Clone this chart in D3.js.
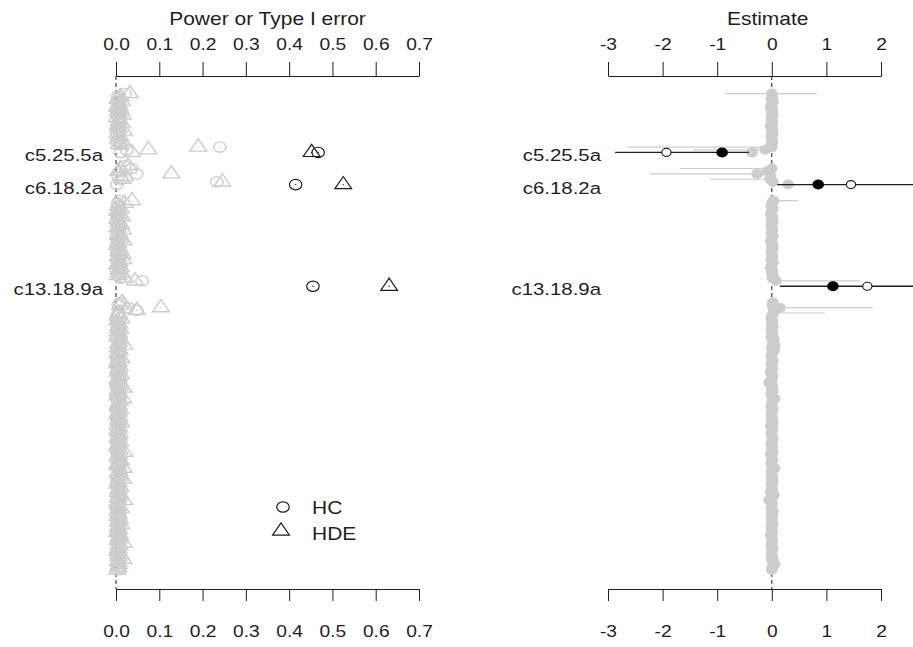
<!DOCTYPE html>
<html>
<head>
<meta charset="utf-8">
<script src="https://cdn.jsdelivr.net/npm/d3@7"></script>
<style>
body { margin: 0; background: #fff; }
svg { font-family: "Liberation Sans", Arial, sans-serif; }
</style>
</head>
<body>
<div id="chart"></div>
<script>
// ---- data ----
var powerTicks = [0, 0.1, 0.2, 0.3, 0.4, 0.5, 0.6, 0.7];
var estTicks = [-3, -2, -1, 0, 1, 2];

// one entry per row, top to bottom (null = empty row)
var hcPower = [
  0.021, 0.004, 0.006, 0.002, 0.008, 0.005, 0.003, 0.007, 0.001, 0.006,
  0.009, 0.004, 0.002, 0.007, 0.005, 0.003, 0.008, 0.006, 0.002, 0.010,
  0.24, 0.025, 0.010, null, null, null, null, 0.020, 0.036, 0.010,
  0.048, 0.005, 0.012, 0.233, 0.002, null, null, null, null, null,
  0.008, 0.004, 0.006, 0.002, 0.009, 0.005, 0.003, 0.007, 0.001, 0.006,
  0.004, 0.008, 0.002, 0.005, 0.009, 0.003, 0.006, 0.001, 0.007, 0.004,
  0.002, 0.008, 0.005, 0.003, 0.009, 0.006, 0.001, 0.007, 0.004, 0.010,
  0.06, null, null, null, null, null, null, null, 0.010, 0.005,
  0.028, 0.048, 0.006, 0.003, 0.008, 0.002, 0.005, 0.009, 0.004, 0.007,
  0.001, 0.006, 0.003, 0.008, 0.005, 0.002, 0.009, 0.004, 0.007, 0.003,
  0.006, 0.001, 0.008, 0.005, 0.002, 0.009, 0.004, 0.007, 0.003, 0.006,
  0.002, 0.008, 0.005, 0.001, 0.009, 0.004, 0.007, 0.003, 0.006, 0.002,
  0.008, 0.005, 0.003, 0.009, 0.006, 0.001, 0.007, 0.004, 0.002, 0.008,
  0.005, 0.003, 0.009, 0.006, 0.002, 0.007, 0.004, 0.001, 0.008, 0.005,
  0.003, 0.009, 0.006, 0.002, 0.007, 0.004, 0.001, 0.008, 0.005, 0.003,
  0.009, 0.006, 0.002, 0.007, 0.004, 0.001, 0.008, 0.005, 0.003, 0.009,
  0.006, 0.002, 0.007, 0.004, 0.001, 0.008, 0.005, 0.003, 0.009, 0.006,
  0.002, 0.007, 0.004, 0.001, 0.008, 0.005, 0.003, 0.006, 0.004
];
var hdePower = [
  0.032, 0.010, 0.004, 0.014, 0.006, 0.003, 0.012, 0.005, 0.016, 0.002,
  0.008, 0.013, 0.004, 0.006, 0.018, 0.003, 0.009, 0.005, 0.015, 0.007,
  0.19, 0.075, 0.037, null, null, null, null, 0.028, 0.010, 0.005,
  0.128, 0.020, 0.015, 0.246, null, null, null, null, null, null,
  0.037, 0.020, 0.005, 0.011, 0.003, 0.008, 0.014, 0.004, 0.006, 0.012,
  0.003, 0.016, 0.007, 0.004, 0.010, 0.018, 0.005, 0.003, 0.009, 0.006,
  0.015, 0.004, 0.017, 0.008, 0.003, 0.011, 0.006, 0.013, 0.004, 0.020,
  0.044, null, null, null, null, null, null, null, 0.014, 0.010,
  0.104, 0.048, 0.006, 0.004, 0.012, 0.003, 0.008, 0.005, 0.010, 0.004,
  0.007, 0.003, 0.011, 0.006, 0.019, 0.004, 0.009, 0.003, 0.007, 0.012,
  0.005, 0.003, 0.009, 0.006, 0.004, 0.011, 0.007, 0.003, 0.005, 0.008,
  0.018, 0.004, 0.006, 0.003, 0.017, 0.009, 0.005, 0.004, 0.010, 0.006,
  0.003, 0.008, 0.005, 0.012, 0.004, 0.007, 0.003, 0.009, 0.006, 0.004,
  0.010, 0.005, 0.003, 0.008, 0.019, 0.006, 0.004, 0.011, 0.005, 0.003,
  0.018, 0.007, 0.004, 0.009, 0.017, 0.005, 0.003, 0.010, 0.006, 0.004,
  0.008, 0.005, 0.019, 0.003, 0.007, 0.011, 0.004, 0.006, 0.003, 0.009,
  0.005, 0.012, 0.004, 0.007, 0.003, 0.010, 0.006, 0.004, 0.018, 0.008,
  0.005, 0.003, 0.009, 0.006, 0.017, 0.004, 0.007, 0.005, 0.003
];
var estimate = [
  0, 0.01, -0.01, 0.02, 0, -0.02, 0.01, 0, 0.02, -0.01,
  0, 0.01, -0.02, 0.01, 0, 0.02, -0.01, 0, 0.01, -0.01,
  0, -0.12, -0.36, null, null, null, null, null, 0, -0.08,
  -0.27, -0.02, -0.03, 0.02, 0.3, null, null, null, null, null,
  0.03, 0, -0.01, 0.02, 0, -0.02, 0.01, 0, 0.02, -0.01,
  0, 0.01, -0.01, 0.02, 0, -0.02, 0.01, 0, 0.02, -0.01,
  0, 0.01, -0.01, 0.02, 0, -0.02, 0.01, 0, 0.02, 0.01,
  0.08, null, null, null, null, null, null, null, 0.02, 0.01,
  0.15, 0.03, 0.03, 0, -0.01, 0.01, 0, 0.02, -0.01, 0,
  0.01, -0.01, 0.04, 0.02, 0.05, 0, 0.04, 0.01, -0.01, 0,
  0.02, -0.01, 0, 0.01, -0.02, 0, 0.01, 0, -0.05, 0.01,
  0, 0.02, -0.01, 0, 0.05, 0.01, 0, -0.01, 0.02, 0,
  -0.01, 0.01, 0, 0.02, -0.02, 0, 0.01, -0.01, 0, 0.02,
  0, -0.01, 0.01, 0, 0.02, -0.02, 0, 0.01, -0.01, 0,
  0.05, 0, -0.01, 0.01, 0, 0.02, -0.01, 0, 0.01, -0.02,
  0.04, 0, -0.05, 0.01, 0, -0.01, 0.02, 0, 0.01, -0.01,
  0, 0.02, -0.01, 0, 0.01, -0.02, 0, 0.01, 0, -0.01,
  0.02, 0, -0.01, 0.01, 0, 0.02, 0.05, 0.01, 0
];

// grey intervals wide enough to be seen
var greyCI = [
  { row: 0, lo: -0.85, hi: 0.84 },
  { row: 20, lo: -2.65, hi: 0 },
  { row: 21, lo: -1.44, hi: 0 },
  { row: 28, lo: -1.68, hi: 0 },
  { row: 30, lo: -2.23, hi: 0 },
  { row: 32, lo: -1.13, hi: 0 },
  { row: 34, lo: 0, hi: 0.55 },
  { row: 40, lo: -0.05, hi: 0.48 },
  { row: 70, lo: 0.1, hi: 1.62 },
  { row: 80, lo: 0, hi: 1.85 },
  { row: 82, lo: 0, hi: 0.97 }
];

// highlighted sites
var hlNames = ['c5.25.5a', 'c6.18.2a', 'c13.18.9a'];
var hlRows = [22, 34, 72];
var hlHC = [0.467, 0.415, 0.455];
var hlHDE = [0.452, 0.525, 0.631];
var hlEstHC = [-1.93, 1.45, 1.75];
var hlEstHDE = [-0.91, 0.85, 1.12];
var hlLo = [-2.87, 0.1, 0.15];
var hlHi = [-0.42, 2.9, 2.9];

// ---- drawing ----
var width = 913, height = 647;
var grey = '#cccccc', ink = '#1e1e1e';
var axisTopY = 76, axisBotY = 589;
var nRows = hcPower.length;

var svg = d3.select('#chart').append('svg')
    .attr('width', width)
    .attr('height', height);

var y = d3.scaleLinear().domain([0, nRows - 1]).range([93.6, 569.9]);
var xP = d3.scaleLinear().domain([0, 0.7]).range([116, 419]);
var xE = d3.scaleLinear().domain([-3, 2]).range([608, 881]);
var estPlotLim = [-3, 2.85];

// marker sizes (picture is a bit wider than tall)
var cRx = 6.2, cRy = 5.2;
function triPath(cx, cy) {
    var s = cRy;
    return 'M' + cx + ',' + (cy - 1.555 * s) +
        'L' + (cx + 1.3468 * s * 1.2) + ',' + (cy + 0.7776 * s) +
        'L' + (cx - 1.3468 * s * 1.2) + ',' + (cy + 0.7776 * s) + 'Z';
}

function label(g, x, yb, txt, anchor, size) {
    return g.append('text')
        .attr('transform', 'translate(' + x + ',' + yb + ') scale(1.2,1)')
        .attr('text-anchor', anchor)
        .attr('fill', ink)
        .style('font-size', size + 'px')
        .text(txt);
}

function styleAxis(g) {
    g.attr('font-size', null).attr('font-family', null);
    g.selectAll('path, line').attr('stroke', ink);
    g.selectAll('text')
        .attr('fill', ink)
        .style('font-size', '16px')
        .attr('transform', 'scale(1.2,1)');
}

var fmtP = d3.format('.1f');
var fmtE = function(d) { return String(d); };

// axes
var axTL = svg.append('g').attr('transform', 'translate(0,' + axisTopY + ')')
    .call(d3.axisTop(xP).tickValues(powerTicks).tickFormat(fmtP)
        .tickSize(14).tickSizeOuter(0).tickPadding(12));
styleAxis(axTL);
var axBL = svg.append('g').attr('transform', 'translate(0,' + axisBotY + ')')
    .call(d3.axisBottom(xP).tickValues(powerTicks).tickFormat(fmtP)
        .tickSize(12).tickSizeOuter(0).tickPadding(25));
styleAxis(axBL);
var axTR = svg.append('g').attr('transform', 'translate(0,' + axisTopY + ')')
    .call(d3.axisTop(xE).tickValues(estTicks).tickFormat(fmtE)
        .tickSize(14).tickSizeOuter(0).tickPadding(12));
styleAxis(axTR);
var axBR = svg.append('g').attr('transform', 'translate(0,' + axisBotY + ')')
    .call(d3.axisBottom(xE).tickValues(estTicks).tickFormat(fmtE)
        .tickSize(12).tickSizeOuter(0).tickPadding(25));
styleAxis(axBR);

// titles
label(svg, (xP.range()[0] + xP.range()[1]) / 2, 25, 'Power or Type I error', 'middle', 17.5);
label(svg, xE((estPlotLim[0] + estPlotLim[1]) / 2), 25, 'Estimate', 'middle', 17.5);

// dashed zero lines
[xP(0), xE(0)].forEach(function(x0) {
    svg.append('line')
        .attr('x1', x0).attr('x2', x0)
        .attr('y1', axisTopY).attr('y2', axisBotY)
        .attr('stroke', ink)
        .attr('stroke-width', 1)
        .attr('stroke-dasharray', '4,3');
});

// ---- left panel: power ----
var powerPts = [];
hcPower.forEach(function(v, i) {
    if (v !== null) powerPts.push({ row: i, v: v, shape: 'hc', hl: false });
    if (hdePower[i] !== null) powerPts.push({ row: i, v: hdePower[i], shape: 'hde', hl: false });
});
hlRows.forEach(function(r, k) {
    powerPts.push({ row: r, v: hlHDE[k], shape: 'hde', hl: true });
    powerPts.push({ row: r, v: hlHC[k], shape: 'hc', hl: true });
});

var pg = svg.append('g');
var mk = pg.selectAll('.pmark')
    .data(powerPts)
    .enter().append('g')
        .attr('class', 'pmark');
mk.each(function(d) {
    var g = d3.select(this);
    var cx = xP(d.v), cy = y(d.row);
    var col = d.hl ? ink : grey;
    var sw = d.hl ? 1.2 : 1.4;
    if (d.shape === 'hc') {
        g.append('ellipse')
            .attr('cx', cx).attr('cy', cy)
            .attr('rx', cRx).attr('ry', cRy)
            .attr('fill', 'none')
            .attr('stroke', col)
            .attr('stroke-width', sw);
    } else {
        g.append('path')
            .attr('d', triPath(cx, cy))
            .attr('fill', 'none')
            .attr('stroke', col)
            .attr('stroke-width', sw);
    }
    g.append('circle')
        .attr('cx', cx).attr('cy', cy).attr('r', 0.7)
        .attr('fill', col);
});

// row labels
hlRows.forEach(function(r, k) {
    label(svg, 103, y(r) + 9, hlNames[k], 'end', 17);
    label(svg, 601, y(r) + 9, hlNames[k], 'end', 17);
});

// legend
var leg = svg.append('g');
leg.append('ellipse')
    .attr('cx', 283).attr('cy', 507)
    .attr('rx', cRx).attr('ry', cRy)
    .attr('fill', 'none').attr('stroke', ink).attr('stroke-width', 1.2);
leg.append('path')
    .attr('d', triPath(281, 531))
    .attr('fill', 'none').attr('stroke', ink).attr('stroke-width', 1.2);
label(leg, 312, 513.5, 'HC', 'start', 17.5);
label(leg, 312, 539.5, 'HDE', 'start', 17.5);

// ---- right panel: estimates ----
var eg = svg.append('g');
eg.selectAll('.gci')
    .data(greyCI)
    .enter().append('line')
        .attr('class', 'gci')
        .attr('x1', d => xE(d.lo)).attr('x2', d => xE(d.hi))
        .attr('y1', d => y(d.row)).attr('y2', d => y(d.row))
        .attr('stroke', grey)
        .attr('stroke-width', 1.2);

var estPts = [];
estimate.forEach(function(v, i) {
    if (v !== null) estPts.push({ row: i, v: v });
});

eg.selectAll('.gdot')
    .data(estPts)
    .enter().append('ellipse')
        .attr('class', 'gdot')
        .attr('cx', d => xE(d.v)).attr('cy', d => y(d.row))
        .attr('rx', 5.8).attr('ry', 5)
        .attr('fill', grey);

var hl = eg.selectAll('.hl')
    .data(hlRows)
    .enter().append('g')
        .attr('class', 'hl');
hl.append('line')
    .attr('x1', (d, k) => xE(hlLo[k])).attr('x2', (d, k) => xE(hlHi[k]))
    .attr('y1', d => y(d)).attr('y2', d => y(d))
    .attr('stroke', ink)
    .attr('stroke-width', 1.3);
hl.append('ellipse')
    .attr('cx', (d, k) => xE(hlEstHDE[k])).attr('cy', d => y(d))
    .attr('rx', 5.8).attr('ry', 5)
    .attr('fill', '#000');
hl.append('ellipse')
    .attr('cx', (d, k) => xE(hlEstHC[k])).attr('cy', d => y(d))
    .attr('rx', 4.6).attr('ry', 4)
    .attr('fill', '#fff')
    .attr('stroke', ink)
    .attr('stroke-width', 1.2);
</script>
</body>
</html>
